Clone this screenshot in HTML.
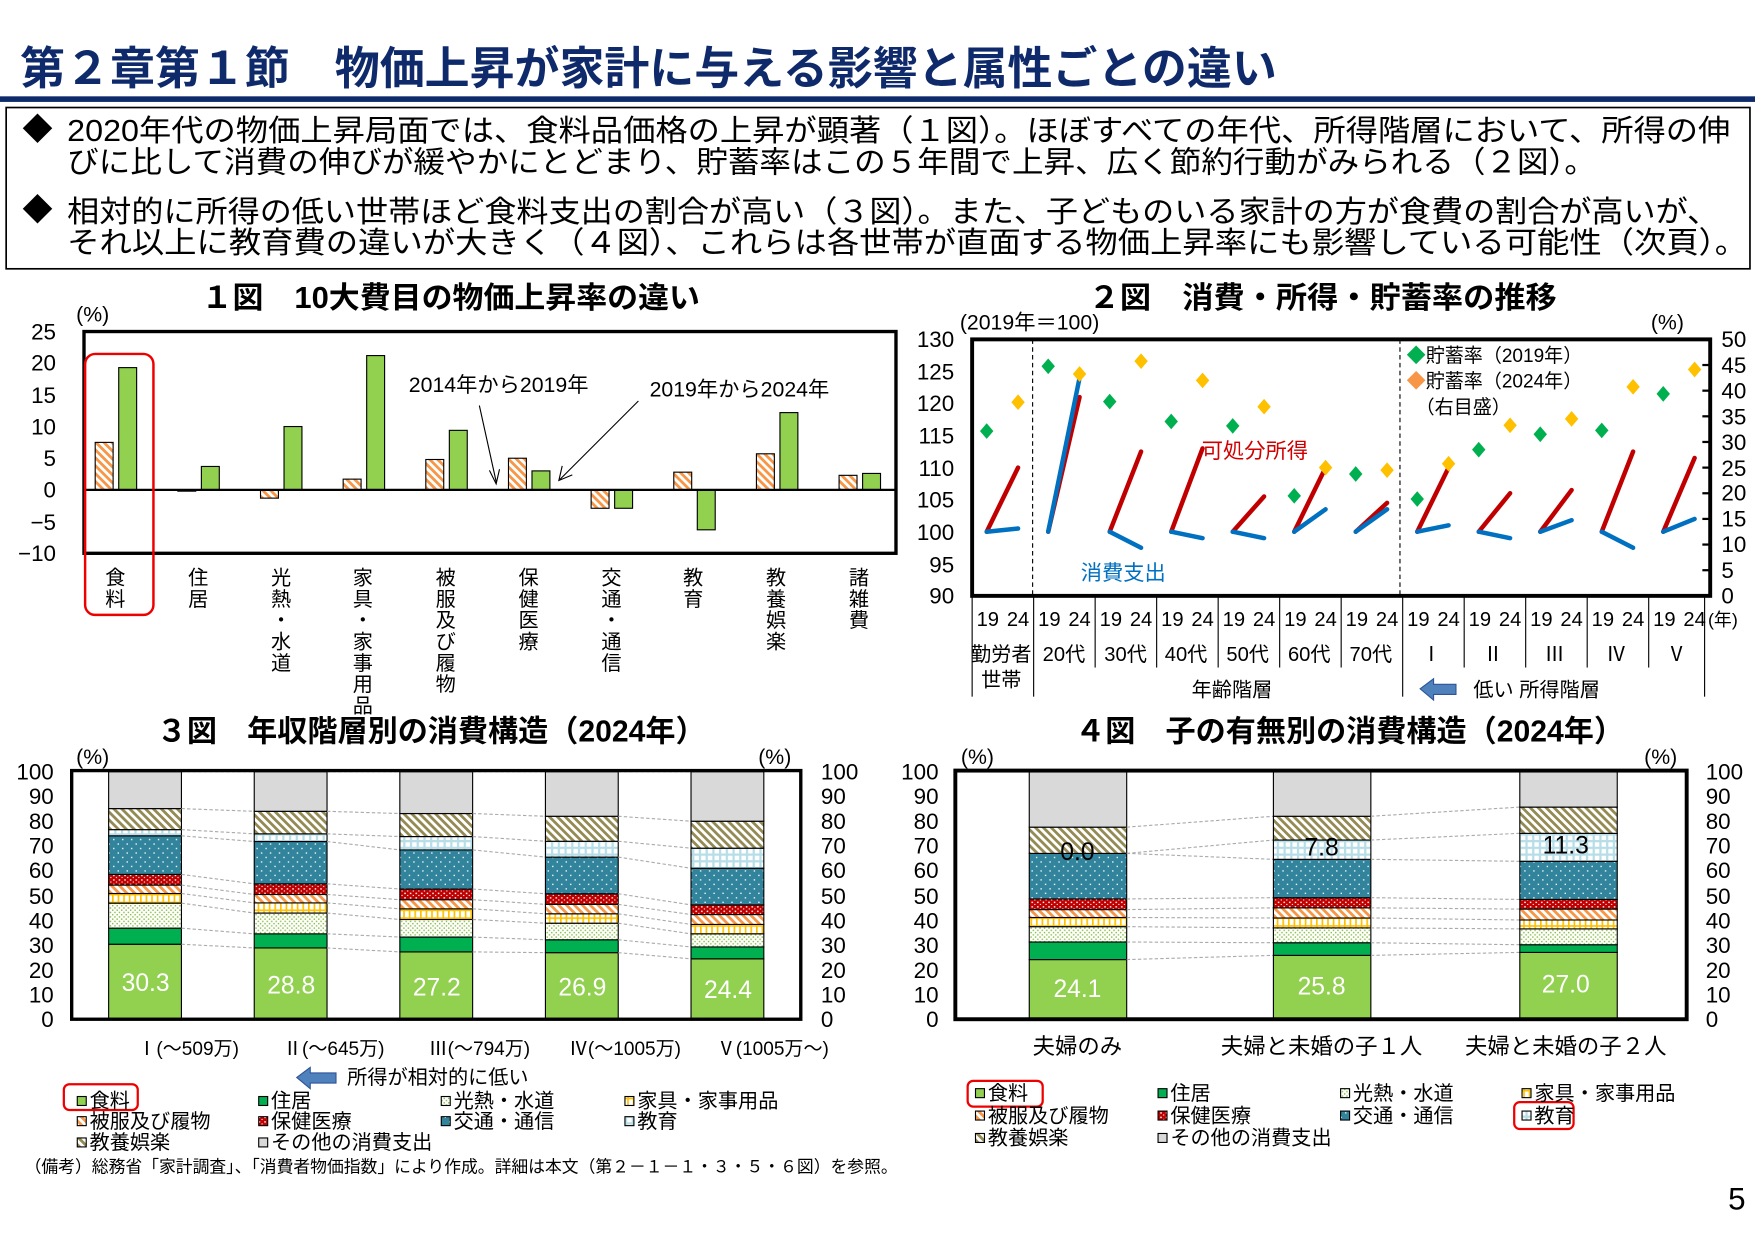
<!DOCTYPE html>
<html><head><meta charset="utf-8">
<style>
html,body{margin:0;padding:0;background:#fff;}
svg{display:block;}
text{font-family:"Liberation Sans","Noto Sans CJK JP",sans-serif;fill:#000;}
</style></head>
<body>
<svg id="s" xmlns="http://www.w3.org/2000/svg" width="1755" height="1241" viewBox="0 0 1567 1108" preserveAspectRatio="none">
<defs>
<pattern id="pOr" width="5" height="5" patternUnits="userSpaceOnUse" patternTransform="rotate(-45)"><rect width="5" height="5" fill="#fff"/><rect width="2.5" height="5" fill="#f79646"/></pattern>
<pattern id="pOl" width="5" height="5" patternUnits="userSpaceOnUse" patternTransform="rotate(-45)"><rect width="5" height="5" fill="#fff"/><rect width="2.5" height="5" fill="#948a54"/></pattern>
<pattern id="pDG" width="4" height="4" patternUnits="userSpaceOnUse"><rect width="4" height="4" fill="#fff"/><rect x="0" y="0" width="1.3" height="1.3" fill="#8cbf4a"/><rect x="2" y="2" width="1.3" height="1.3" fill="#8cbf4a"/></pattern>
<pattern id="pRd" width="5" height="4" patternUnits="userSpaceOnUse"><rect width="5" height="4" fill="#c00000"/><rect x="1" y="1" width="1.3" height="1.3" fill="#fff"/><rect x="3.5" y="3" width="1" height="1" fill="#fff"/></pattern>
<pattern id="pTl" width="8" height="8" patternUnits="userSpaceOnUse"><rect width="8" height="8" fill="#31849b"/><rect x="1" y="1" width="1.2" height="1.2" fill="#fff"/><rect x="5" y="5" width="1.2" height="1.2" fill="#fff"/></pattern>
<pattern id="pYl" width="5" height="7" patternUnits="userSpaceOnUse"><rect width="5" height="7" fill="#fff"/><rect width="1.5" height="7" fill="#ffc000"/><rect width="5" height="1.5" fill="#ffc000"/></pattern>
<pattern id="pBl" width="6" height="6" patternUnits="userSpaceOnUse"><rect width="6" height="6" fill="#fff"/><rect width="2" height="6" fill="#b7dee8"/><rect width="6" height="2" fill="#b7dee8"/></pattern>
</defs>

<!-- Header -->
<text x="18" y="75" font-size="40" font-weight="bold" style="fill:#0f2a6b" textLength="1122" lengthAdjust="spacingAndGlyphs">第２章第１節　物価上昇が家計に与える影響と属性ごとの違い</text>
<rect x="0" y="86" width="1567" height="5" fill="#0f2a6b"/>
<rect x="5.5" y="96" width="1557" height="144" fill="none" stroke="#000" stroke-width="1.5"/>
<g font-size="27">
<text x="20" y="125">◆</text>
<text x="60" y="126" textLength="1485" lengthAdjust="spacingAndGlyphs">2020年代の物価上昇局面では、食料品価格の上昇が顕著（１図）。ほぼすべての年代、所得階層において、所得の伸</text>
<text x="60" y="154" textLength="1365" lengthAdjust="spacingAndGlyphs">びに比して消費の伸びが緩やかにとどまり、貯蓄率はこの５年間で上昇、広く節約行動がみられる（２図）。</text>
<text x="20" y="197">◆</text>
<text x="60" y="198" textLength="1475" lengthAdjust="spacingAndGlyphs">相対的に所得の低い世帯ほど食料支出の割合が高い（３図）。また、子どものいる家計の方が食費の割合が高いが、</text>
<text x="60" y="226" textLength="1500" lengthAdjust="spacingAndGlyphs">それ以上に教育費の違いが大きく（４図）、これらは各世帯が直面する物価上昇率にも影響している可能性（次頁）。</text>
</g>

<!-- Chart 1 -->
<text x="180" y="275" font-size="27" font-weight="bold" textLength="445" lengthAdjust="spacingAndGlyphs">１図　10大費目の物価上昇率の違い</text>
<text x="68" y="287" font-size="19">(%)</text>
<g font-size="20" text-anchor="end">
<text x="50" y="303">25</text><text x="50" y="331">20</text><text x="50" y="360">15</text><text x="50" y="388">10</text><text x="50" y="416">5</text><text x="50" y="444">0</text><text x="50" y="473">−5</text><text x="50" y="501">−10</text>
</g>
<g id="c1"></g>
<rect x="75" y="296" width="725" height="198" fill="none" stroke="#000" stroke-width="3"/>
<line x1="75" y1="437.4" x2="800" y2="437.4" stroke="#000" stroke-width="2"/>
<text x="365" y="350" font-size="19">2014年から2019年</text>
<text x="580" y="354" font-size="19">2019年から2024年</text>
<path d="M428 362 L443 430 M437 420 L443 432 L446 419" stroke="#000" fill="none" stroke-width="1"/>
<path d="M570 358 L500 428 M502 416 L499 429 L511 424" stroke="#000" fill="none" stroke-width="1"/>
<rect x="76" y="316" width="61" height="233" rx="9" fill="none" stroke="#e00" stroke-width="2.2"/>
<g font-size="18" text-anchor="middle">
<text x="103" y="522">食<tspan x="103" dy="19">料</tspan></text>
<text x="177" y="522">住<tspan x="177" dy="19">居</tspan></text>
<text x="251" y="522">光<tspan x="251" dy="19">熱</tspan><tspan x="251" dy="19">・</tspan><tspan x="251" dy="19">水</tspan><tspan x="251" dy="19">道</tspan></text>
<text x="324" y="522">家<tspan x="324" dy="19">具</tspan><tspan x="324" dy="19">・</tspan><tspan x="324" dy="19">家</tspan><tspan x="324" dy="19">事</tspan><tspan x="324" dy="19">用</tspan><tspan x="324" dy="19">品</tspan></text>
<text x="398" y="522">被<tspan x="398" dy="19">服</tspan><tspan x="398" dy="19">及</tspan><tspan x="398" dy="19">び</tspan><tspan x="398" dy="19">履</tspan><tspan x="398" dy="19">物</tspan></text>
<text x="472" y="522">保<tspan x="472" dy="19">健</tspan><tspan x="472" dy="19">医</tspan><tspan x="472" dy="19">療</tspan></text>
<text x="546" y="522">交<tspan x="546" dy="19">通</tspan><tspan x="546" dy="19">・</tspan><tspan x="546" dy="19">通</tspan><tspan x="546" dy="19">信</tspan></text>
<text x="619" y="522">教<tspan x="619" dy="19">育</tspan></text>
<text x="693" y="522">教<tspan x="693" dy="19">養</tspan><tspan x="693" dy="19">娯</tspan><tspan x="693" dy="19">楽</tspan></text>
<text x="767" y="522">諸<tspan x="767" dy="19">雑</tspan><tspan x="767" dy="19">費</tspan></text>
</g>

<!-- Chart 2 -->
<text x="972" y="275" font-size="27" font-weight="bold" textLength="418" lengthAdjust="spacingAndGlyphs">２図　消費・所得・貯蓄率の推移</text>
<text x="857" y="294" font-size="19">(2019年＝100)</text>
<text x="1474" y="294" font-size="19">(%)</text>
<g font-size="20" text-anchor="end">
<text x="852" y="310">130</text><text x="852" y="339">125</text><text x="852" y="367">120</text><text x="852" y="396">115</text><text x="852" y="425">110</text><text x="852" y="453">105</text><text x="852" y="482">100</text><text x="852" y="511">95</text><text x="852" y="539">90</text>
</g>
<g font-size="20">
<text x="1537" y="310">50</text><text x="1537" y="333">45</text><text x="1537" y="356">40</text><text x="1537" y="379">35</text><text x="1537" y="402">30</text><text x="1537" y="425">25</text><text x="1537" y="447">20</text><text x="1537" y="470">15</text><text x="1537" y="493">10</text><text x="1537" y="516">5</text><text x="1537" y="539">0</text>
</g>
<g id="c2"></g>
<rect x="868" y="303" width="659" height="229" fill="none" stroke="#000" stroke-width="3.5"/>
<line x1="922" y1="303" x2="922" y2="532" stroke="#000" stroke-dasharray="4,3" stroke-width="1"/>
<line x1="1250" y1="303" x2="1250" y2="532" stroke="#000" stroke-dasharray="4,3" stroke-width="1"/>
<g font-size="17">
<text x="1256" y="323"><tspan style="fill:#00b050">◆</tspan>貯蓄率（2019年）</text>
<text x="1256" y="346"><tspan style="fill:#f79646">◆</tspan>貯蓄率（2024年）</text>
<text x="1264" y="369">（右目盛）</text>
</g>
<text x="1073" y="409" font-size="19" style="fill:#d00000">可処分所得</text>
<text x="965" y="518" font-size="19" style="fill:#0070c0">消費支出</text>
<g font-size="18" text-anchor="middle" id="c2x">
<text x="1525" y="559" text-anchor="start" font-size="16">(年)</text>
<text x="894" y="590">勤労者</text><text x="894" y="613">世帯</text>
<text x="950" y="590">20代</text><text x="1005" y="590">30代</text><text x="1059" y="590">40代</text><text x="1114" y="590">50代</text><text x="1169" y="590">60代</text><text x="1224" y="590">70代</text>
<text x="1278" y="590">Ⅰ</text><text x="1333" y="590">Ⅱ</text><text x="1388" y="590">Ⅲ</text><text x="1443" y="590">Ⅳ</text><text x="1497" y="590">Ⅴ</text>
<text x="1100" y="622">年齢階層</text>
<text x="1372" y="622">低い 所得階層</text>
</g>
<path d="M1268 615 L1280 606 L1280 611 L1300 611 L1300 620 L1280 620 L1280 625 Z" fill="#4f81bd" stroke="#2f5597" stroke-width="1"/>

<!-- Chart 3 -->
<text x="140" y="662" font-size="27" font-weight="bold" textLength="490" lengthAdjust="spacingAndGlyphs">３図　年収階層別の消費構造（2024年）</text>
<text x="68" y="682" font-size="19">(%)</text>
<text x="677" y="682" font-size="19">(%)</text>
<g font-size="20" text-anchor="end" id="c3yl"></g>
<g id="c3"></g>
<rect x="64" y="688" width="651" height="222" fill="none" stroke="#000" stroke-width="3"/>
<g font-size="22" text-anchor="middle" style="fill:#fff">
<text x="130" y="885" style="fill:#fff">30.3</text><text x="260" y="887" style="fill:#fff">28.8</text><text x="390" y="889" style="fill:#fff">27.2</text><text x="520" y="889" style="fill:#fff">26.9</text><text x="650" y="891" style="fill:#fff">24.4</text>
</g>
<g font-size="17" text-anchor="middle">
<text x="168" y="942">Ⅰ(～509万)</text><text x="298" y="942">Ⅱ(～645万)</text><text x="428" y="942">Ⅲ(～794万)</text><text x="558" y="942">Ⅳ(～1005万)</text><text x="690" y="942">Ⅴ(1005万～)</text>
</g>
<path d="M265 962 L277 953 L277 958 L300 958 L300 967 L277 967 L277 972 Z" fill="#4f81bd" stroke="#2f5597" stroke-width="1"/>
<text x="310" y="968" font-size="18">所得が相対的に低い</text>
<g id="lg3" font-size="18"></g>
<rect x="57" y="968" width="66" height="23" rx="5" fill="none" stroke="#e00" stroke-width="2"/>

<!-- Chart 4 -->
<text x="960" y="662" font-size="27" font-weight="bold" textLength="490" lengthAdjust="spacingAndGlyphs">４図　子の有無別の消費構造（2024年）</text>
<text x="858" y="682" font-size="19">(%)</text>
<text x="1468" y="682" font-size="19">(%)</text>
<g id="c4"></g>
<rect x="853" y="688" width="653" height="222" fill="none" stroke="#000" stroke-width="3.5"/>
<g font-size="22" text-anchor="middle">
<text x="962" y="890" style="fill:#fff">24.1</text><text x="1180" y="888" style="fill:#fff">25.8</text><text x="1398" y="886" style="fill:#fff">27.0</text>
<text x="962" y="768">0.0</text><text x="1180" y="764">7.8</text><text x="1398" y="762">11.3</text>
</g>
<g font-size="20" text-anchor="middle">
<text x="962" y="941">夫婦のみ</text><text x="1180" y="941">夫婦と未婚の子１人</text><text x="1398" y="941">夫婦と未婚の子２人</text>
</g>
<g id="lg4" font-size="18"></g>
<rect x="864" y="965" width="67" height="23" rx="5" fill="none" stroke="#e00" stroke-width="2"/>
<rect x="1352" y="984" width="53" height="24" rx="5" fill="none" stroke="#e00" stroke-width="2"/>

<!-- Y labels chart 3/4 -->
<g font-size="20" text-anchor="end">
<text x="48" y="917">0</text><text x="48" y="895">10</text><text x="48" y="873">20</text><text x="48" y="851">30</text><text x="48" y="829">40</text><text x="48" y="807">50</text><text x="48" y="784">60</text><text x="48" y="762">70</text><text x="48" y="740">80</text><text x="48" y="718">90</text><text x="48" y="696">100</text>
<text x="838" y="917">0</text><text x="838" y="895">10</text><text x="838" y="873">20</text><text x="838" y="851">30</text><text x="838" y="829">40</text><text x="838" y="807">50</text><text x="838" y="784">60</text><text x="838" y="762">70</text><text x="838" y="740">80</text><text x="838" y="718">90</text><text x="838" y="696">100</text>
</g>
<g font-size="20">
<text x="733" y="917">0</text><text x="733" y="895">10</text><text x="733" y="873">20</text><text x="733" y="851">30</text><text x="733" y="829">40</text><text x="733" y="807">50</text><text x="733" y="784">60</text><text x="733" y="762">70</text><text x="733" y="740">80</text><text x="733" y="718">90</text><text x="733" y="696">100</text>
<text x="1523" y="917">0</text><text x="1523" y="895">10</text><text x="1523" y="873">20</text><text x="1523" y="851">30</text><text x="1523" y="829">40</text><text x="1523" y="807">50</text><text x="1523" y="784">60</text><text x="1523" y="762">70</text><text x="1523" y="740">80</text><text x="1523" y="718">90</text><text x="1523" y="696">100</text>
</g>

<!-- legend texts chart 3 -->
<g font-size="18">
<text x="80" y="989">食料</text><text x="242" y="989">住居</text><text x="405" y="989">光熱・水道</text><text x="569" y="989">家具・家事用品</text>
<text x="80" y="1007">被服及び履物</text><text x="242" y="1007">保健医療</text><text x="405" y="1007">交通・通信</text><text x="569" y="1007">教育</text>
<text x="80" y="1026">教養娯楽</text><text x="242" y="1026">その他の消費支出</text>
<text x="882" y="982">食料</text><text x="1045" y="982">住居</text><text x="1208" y="982">光熱・水道</text><text x="1370" y="982">家具・家事用品</text>
<text x="882" y="1002">被服及び履物</text><text x="1045" y="1002">保健医療</text><text x="1208" y="1002">交通・通信</text><text x="1370" y="1002">教育</text>
<text x="882" y="1022">教養娯楽</text><text x="1045" y="1022">その他の消費支出</text>
</g>
<text x="22" y="1047" font-size="15">（備考）総務省「家計調査」、「消費者物価指数」により作成。詳細は本文（第２－１－１・３・５・６図）を参照。</text>
<text x="1543" y="1080" font-size="28">5</text>
</svg>
<script>
(function(){
var NS="http://www.w3.org/2000/svg";
function el(p,t,a){var e=document.createElementNS(NS,t);for(var k in a)e.setAttribute(k,a[k]);document.getElementById(p).appendChild(e);return e;}
// chart1
var d1=[[7.5,19.3],[-0.2,3.7],[-1.3,10],[1.7,21.2],[4.8,9.4],[5.0,3.0],[-2.9,-2.9],[2.8,-6.3],[5.7,12.2],[2.3,2.6]];
function y1(v){return 437.4-v*5.657;}
d1.forEach(function(d,i){var x=85+73.8*i;
 [[d[0],"url(#pOr)",x],[d[1],"#92d050",x+21]].forEach(function(b){var a=y1(Math.max(b[0],0)),c=y1(Math.min(b[0],0));
 el("c1","rect",{x:b[2],y:a,width:16,height:Math.max(c-a,1),fill:b[1],stroke:"#000","stroke-width":1});});});
// chart2
function y2(v){return 532-(v-90)*5.725;}
var d2=[[110,100.5,115.7,120.2],[121,124,125.8,124.6],[112.5,97.5,120.3,126.6],[113,99,117.2,123.6],[105.5,99,116.5,119.5],[110,103.5,105.6,110],[104.5,103.5,109,109.6],[110,101,105.1,110.6],[106,99,112.8,116.6],[106.5,101.8,115.2,117.6],[112.5,97.5,115.8,122.6],[111.5,102,121.5,125.3]];
var gw=659/12;
d2.forEach(function(d,i){var g=868+gw*i,a=g+13,b=g+41;
 el("c2","line",{x1:a,y1:y2(100),x2:b,y2:y2(d[0]),stroke:"#c00000","stroke-width":4,"stroke-linecap":"round"});
 el("c2","line",{x1:a,y1:y2(100),x2:b,y2:y2(d[1]),stroke:"#0070c0","stroke-width":4,"stroke-linecap":"round"});
 [[a,d[2],"#00b050"],[b,d[3],"#ffc000"]].forEach(function(m){var y=y2(m[1]);
  el("c2","path",{d:"M"+m[0]+" "+(y-7)+"L"+(m[0]+6)+" "+y+"L"+m[0]+" "+(y+7)+"L"+(m[0]-6)+" "+y+"Z",fill:m[2]});});
 var t=el("c2x","text",{x:g+14,y:559});t.textContent="19";
 t=el("c2x","text",{x:g+41,y:559});t.textContent="24";
 if(i>0){var big=(i==1||i==7);el("c2","line",{x1:g,y1:532,x2:g,y2:big?622:596,stroke:"#000","stroke-width":1});}
});
el("c2","line",{x1:868,y1:532,x2:868,y2:622,stroke:"#000","stroke-width":1});
el("c2","line",{x1:1522,y1:532,x2:1522,y2:622,stroke:"#000","stroke-width":1});
for(var k=1;k<10;k++){var yy=532-k*22.9;el("c2","line",{x1:1520,y1:yy,x2:1527,y2:yy,stroke:"#000","stroke-width":2});}
// stacked
var fills=["#92d050","#00b050","url(#pDG)","url(#pYl)","url(#pOr)","url(#pRd)","url(#pTl)","url(#pBl)","url(#pOl)","#d9d9d9"];
function stack(g,xs,w,data,sc){
 data.forEach(function(c,i){var prev=0;var cs=c.concat([100]);
  cs.forEach(function(v,j){var yt=910-v*sc,yb=910-prev*sc;
   if(v>prev)el(g,"rect",{x:xs[i],y:yt,width:w,height:yb-yt,fill:fills[j],stroke:"#000","stroke-width":1});prev=v;});
  if(i<data.length-1){c.forEach(function(v,j){el(g,"line",{x1:xs[i]+w,y1:910-v*sc,x2:xs[i+1],y2:910-data[i+1][j]*sc,stroke:"#aaa","stroke-width":1,"stroke-dasharray":"3,2"});});
   el(g,"line",{x1:xs[i]+w,y1:689,x2:xs[i+1],y2:689,stroke:"#aaa","stroke-width":1,"stroke-dasharray":"3,2"});}
 });
 for(var k=1;k<10;k++){}
}
stack("c3",[97,227,357,487,617],65,[
 [30.3,36.8,46.9,50.8,54.2,58.5,74.1,76.6,85.1],
 [28.8,34.5,42.9,47,50.4,54.7,71.8,74.9,84],
 [27.2,33.2,40.3,44.6,48.3,52.6,68.4,73.8,83.1],
 [26.9,32.1,38.8,42.6,46.4,50.7,65.5,71.9,82],
 [24.4,29.2,34.5,38.3,42.3,46.2,61,69.1,80]],2.21);
stack("c4",[919,1137,1357],87,[
 [24.1,31.2,37.4,41.1,44.3,48.6,67,67,77.6],
 [25.8,30.9,36.9,40.9,45,49.1,64.6,72.4,82],
 [27.0,30.1,36.5,40.1,44.5,48.4,63.8,75.1,85.7]],2.21);
// legends
function leg(g,cols,rows){var order=[[0,0,0],[1,0,1],[2,0,2],[3,0,3],[4,1,0],[5,1,1],[6,1,2],[7,1,3],[8,2,0],[9,2,1]];
 order.forEach(function(o){el(g,"rect",{x:cols[o[2]],y:rows[o[1]]-9,width:8,height:8,fill:fills[o[0]],stroke:"#000","stroke-width":1});});}
leg("lg3",[69,231,394,558],[988,1006,1025]);
leg("lg4",[871,1034,1197,1359],[981,1001,1021]);
})();
</script>
</body></html>
